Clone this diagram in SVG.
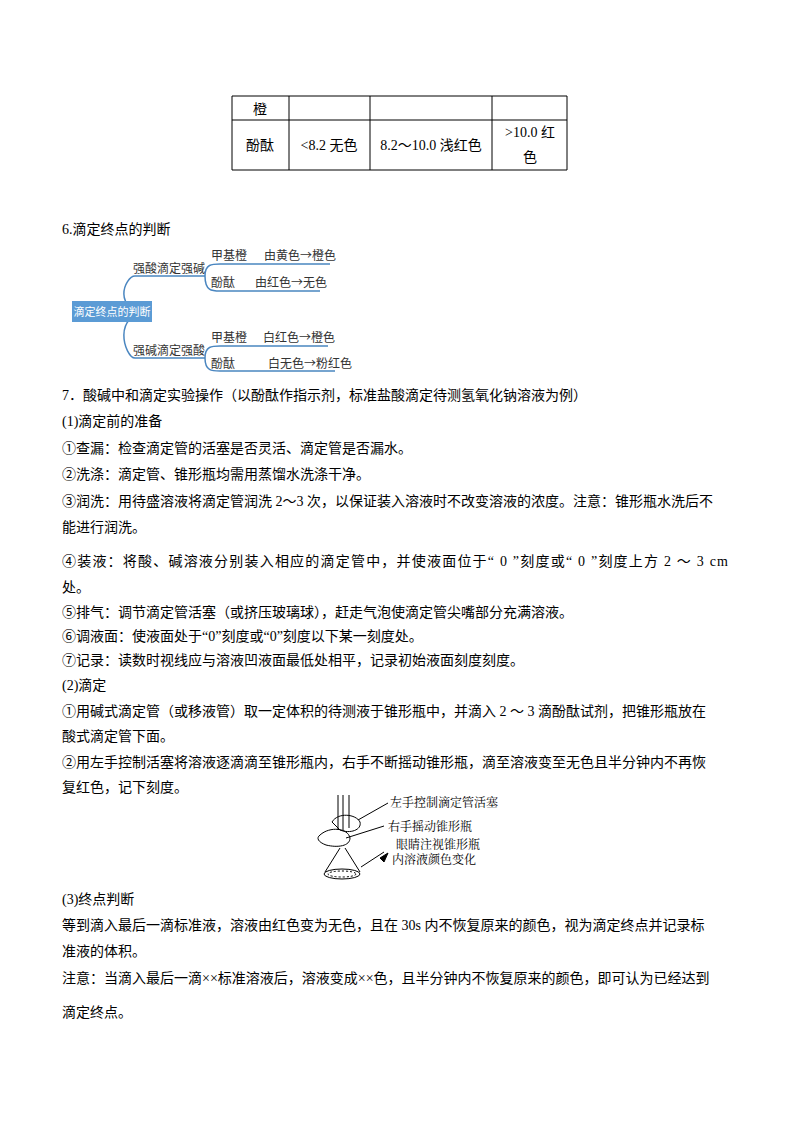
<svg xmlns="http://www.w3.org/2000/svg" width="800" height="1132" viewBox="0 0 800 1132">
<style>
text{font-family:"Liberation Serif","Noto Sans CJK SC",serif;font-size:14px;fill:#000}
.m{font-family:"Noto Sans CJK SC",sans-serif;font-size:12px;fill:#333}
.g{stroke:#000;stroke-width:1;fill:none}
.b{stroke:#4a86c0;stroke-width:1.5;fill:none}
.f{font-size:12px;font-family:"Noto Serif CJK SC","Noto Sans CJK SC",serif}
</style>
<rect width="800" height="1132" fill="#fff"/>
<g id="table" class="g">
<path d="M232 96H567M232 120H567M232 170H567M232 96V170M289 96V170M370 96V170M492 96V170M567 96V170"/>
</g>
<g id="table-text">
<text x="260" y="114" text-anchor="middle">橙</text>
<text x="260" y="150" text-anchor="middle">酚酞</text>
<text x="329" y="150" text-anchor="middle">&lt;8.2 无色</text>
<text x="431" y="150" text-anchor="middle">8.2～10.0 浅红色</text>
<text x="530" y="137" text-anchor="middle">&gt;10.0 红</text>
<text x="530" y="162" text-anchor="middle">色</text>
</g>
<text x="62" y="234">6.滴定终点的判断</text>
<g id="connectors" class="b">
<path d="M151 312C110 312 125 276 135 276H205"/>
<path d="M151 312C110 312 125 358 135 358H205"/>
<path d="M205 276C205 264 212 264 220 264H330"/>
<path d="M205 276C205 291 212 291 220 291H320"/>
<path d="M205 358C205 346 212 346 220 346H328"/>
<path d="M205 358C205 371 212 371 220 371H335"/>
</g>
<g id="root"><rect x="72" y="301" width="80" height="21" fill="#5b9bd5"/><text class="m" x="112" y="316" text-anchor="middle" style="fill:#fff;font-size:11px">滴定终点的判断</text></g>
<g id="n1"><text class="m" x="133" y="273">强酸滴定强碱</text></g>
<g id="n2"><text class="m" x="133" y="355">强碱滴定强酸</text></g>
<g id="n3"><text class="m" x="211" y="260">甲基橙</text><text class="m" x="264" y="260">由黄色→橙色</text></g>
<g id="n4"><text class="m" x="211" y="287">酚酞</text><text class="m" x="255" y="287">由红色→无色</text></g>
<g id="n5"><text class="m" x="211" y="342">甲基橙</text><text class="m" x="263" y="342">白红色→橙色</text></g>
<g id="n6"><text class="m" x="211" y="368">酚酞</text><text class="m" x="268" y="368">白无色→粉红色</text></g>
<g id="body">
<text x="62" y="400">7．酸碱中和滴定实验操作（以酚酞作指示剂，标准盐酸滴定待测氢氧化钠溶液为例）</text>
<text x="62" y="426">(1)滴定前的准备</text>
<text x="62" y="453">①查漏：检查滴定管的活塞是否灵活、滴定管是否漏水。</text>
<text x="62" y="479">②洗涤：滴定管、锥形瓶均需用蒸馏水洗涤干净。</text>
<text x="62" y="506">③润洗：用待盛溶液将滴定管润洗 2～3 次，以保证装入溶液时不改变溶液的浓度。注意：锥形瓶水洗后不</text>
<text x="62" y="532">能进行润洗。</text>
<text x="62" y="566" textLength="666" lengthAdjust="spacing">④装液：将酸、碱溶液分别装入相应的滴定管中，并使液面位于“ 0 ”刻度或“ 0 ”刻度上方 2 ～ 3 cm</text>
<text x="62" y="592">处。</text>
<text x="62" y="617">⑤排气：调节滴定管活塞（或挤压玻璃球），赶走气泡使滴定管尖嘴部分充满溶液。</text>
<text x="62" y="641">⑥调液面：使液面处于“0”刻度或“0”刻度以下某一刻度处。</text>
<text x="62" y="665">⑦记录：读数时视线应与溶液凹液面最低处相平，记录初始液面刻度刻度。</text>
<text x="62" y="690">(2)滴定</text>
<text x="62" y="716">①用碱式滴定管（或移液管）取一定体积的待测液于锥形瓶中，并滴入 2 ～ 3 滴酚酞试剂，把锥形瓶放在</text>
<text x="62" y="741">酸式滴定管下面。</text>
<text x="62" y="767">②用左手控制活塞将溶液逐滴滴至锥形瓶内，右手不断摇动锥形瓶，滴至溶液变至无色且半分钟内不再恢</text>
<text x="62" y="792">复红色，记下刻度。</text>
<text x="62" y="904">(3)终点判断</text>
<text x="62" y="930">等到滴入最后一滴标准液，溶液由红色变为无色，且在 30s 内不恢复原来的颜色，视为滴定终点并记录标</text>
<text x="62" y="956">准液的体积。</text>
<text x="62" y="983">注意：当滴入最后一滴××标准溶液后，溶液变成××色，且半分钟内不恢复原来的颜色，即可认为已经达到</text>
<text x="62" y="1017">滴定终点。</text>
</g>
<g id="figure" class="g" stroke-width="1">
<path d="M338 795V830M343 795V830M349 795V828"/>
<path d="M332 822C338 812 356 814 360 822C362 830 350 834 340 830Z"/>
<path d="M320 835C330 826 348 828 350 838C350 846 338 848 326 845C318 842 316 838 320 835Z"/>
<path d="M340 848L325 872M345 848L360 872"/>
<ellipse cx="342" cy="874" rx="18" ry="5"/>
<ellipse cx="342" cy="874" rx="14" ry="3" stroke-dasharray="2 2"/>
<path d="M358 820L388 803M346 838L384 826M361 867L384 852"/>
<path d="M380 858L388 853L384 862Z" fill="#000"/>
</g>
<g id="figure-text">
<text class="f" x="390" y="807">左手控制滴定管活塞</text>
<text class="f" x="388" y="831">右手摇动锥形瓶</text>
<text class="f" x="396" y="849">眼睛注视锥形瓶</text>
<text class="f" x="392" y="864">内溶液颜色变化</text>
</g>
</svg>
